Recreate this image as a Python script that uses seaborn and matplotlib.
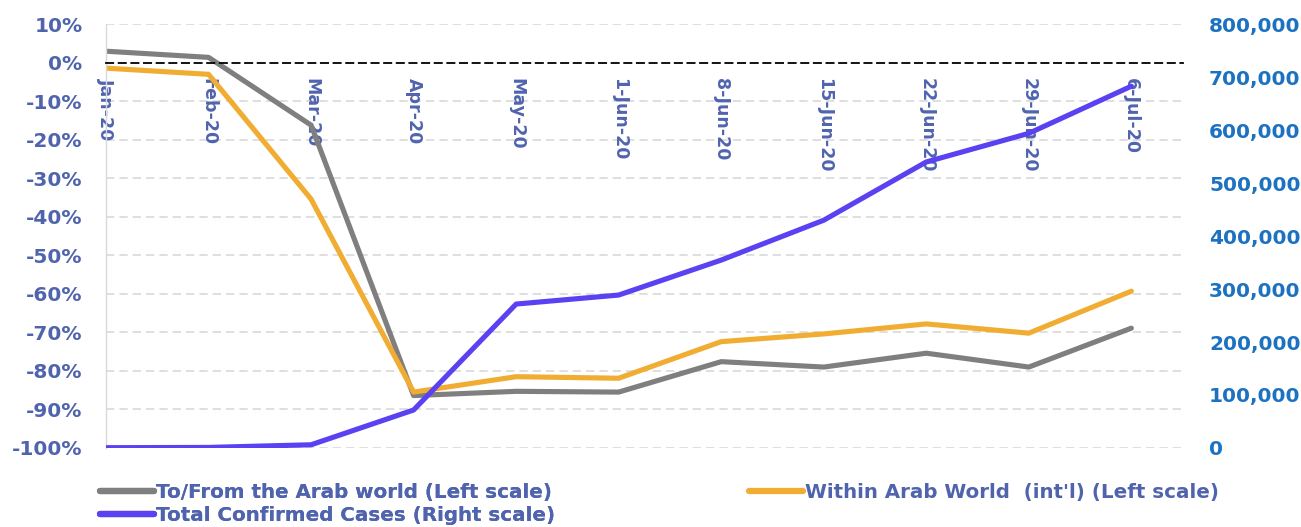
import numpy as np
import pandas as pd
import matplotlib
matplotlib.use("Agg")
import matplotlib.pyplot as plt
import seaborn as sns
from matplotlib.ticker import FuncFormatter

# data
categories = ["Jan-20", "Feb-20", "Mar-20", "Apr-20", "May-20", "1-Jun-20",
              "8-Jun-20", "15-Jun-20", "22-Jun-20", "29-Jun-20", "6-Jul-20"]
to_from_arab = [3.0, 1.4, -16.2, -86.4, -85.3, -85.5, -77.6, -79.0, -75.4, -79.0, -68.9]
within_arab = [-1.4, -3.0, -35.4, -85.5, -81.5, -81.9, -72.4, -70.4, -67.8, -70.2, -59.3]
total_cases = [500, 1000, 6000, 71700, 271700, 288700, 354700, 430000, 540000, 594000, 683000]

left_ticks = list(range(-100, 11, 10))
right_ticks = list(range(0, 800001, 100000))

grey = "#7f7f7f"
orange = "#f0ad32"
purple = "#5a41f2"
label_blue = "#5064ae"
right_blue = "#1c72c0"

df = pd.DataFrame({"pos": np.arange(len(categories)),
                   "to_from": to_from_arab,
                   "within": within_arab,
                   "cases": total_cases})

sns.set_style("white")
plt.rcParams["font.family"] = ["DejaVu Sans"]

fig = plt.figure(figsize=(13.01, 5.27), dpi=100)
ax = fig.add_axes([0.0815, 0.150, 0.8275, 0.804])

sns.lineplot(data=df, x="pos", y="to_from", ax=ax, color=grey, lw=3.7,
             label="To/From the Arab world (Left scale)")
sns.lineplot(data=df, x="pos", y="within", ax=ax, color=orange, lw=3.7,
             label="Within Arab World  (int'l) (Left scale)")
ax.set_ylim(-100, 10)
ax.set_xlim(0, len(categories) - 0.5)
ax.set_yticks(left_ticks)
ax.yaxis.set_major_formatter(FuncFormatter(lambda v, p: f"{int(round(v))}%"))
ax.set_xlabel("")
ax.set_ylabel("")

# gridlines
for t in left_ticks:
    if t != 0:
        ax.axhline(t, color="#d9d9d9", lw=1.2, ls=(0, (5, 3)), zorder=0)

# x axis sits on 0%
for s in ["top", "right"]:
    ax.spines[s].set_visible(False)
ax.spines["left"].set_color("#d9d9d9")
ax.spines["left"].set_linewidth(1)
ax.spines["bottom"].set_position(("data", 0))
ax.spines["bottom"].set_color("black")
ax.spines["bottom"].set_linewidth(1.3)
ax.spines["bottom"].set_linestyle((0, (4, 3)))

ax.set_xticks(df["pos"])
ax.set_xticklabels(categories, rotation=270, color=label_blue,
                   fontsize=12.5, fontweight="bold", va="top", ha="center")
ax.tick_params(axis="x", direction="in", length=4, width=1, color="black", pad=11)
ax.tick_params(axis="y", length=0, pad=17, labelsize=14.5, labelcolor=label_blue)
for lab in ax.get_yticklabels():
    lab.set_fontweight("bold")

# right axis
ax2 = ax.twinx()
sns.lineplot(data=df, x="pos", y="cases", ax=ax2, color=purple, lw=3.7,
             label="Total Confirmed Cases (Right scale)")
ax2.set_ylim(0, 800000)
ax2.set_yticks(right_ticks)
ax2.yaxis.set_major_formatter(FuncFormatter(lambda v, p: f"{int(v):,}"))
ax2.set_ylabel("")
ax2.tick_params(axis="y", length=0, pad=19, labelsize=14.5, labelcolor=right_blue)
for lab in ax2.get_yticklabels():
    lab.set_fontweight("bold")
for s in ax2.spines.values():
    s.set_visible(False)

h1, l1 = ax.get_legend_handles_labels()
h2, l2 = ax2.get_legend_handles_labels()
ax.get_legend().remove()
ax2.get_legend().remove()

leg_font = {"family": "DejaVu Sans", "weight": "bold", "size": 14.3}
leg1 = fig.legend([h1[0], h2[0]], [l1[0], l2[0]], loc="upper left",
                  bbox_to_anchor=(0.077, 0.083), frameon=False, prop=leg_font,
                  handlelength=2.7, handletextpad=0.1, labelspacing=0.2,
                  borderpad=0, borderaxespad=0)
leg2 = fig.legend([h1[1]], [l1[1]], loc="upper left",
                  bbox_to_anchor=(0.576, 0.083), frameon=False, prop=leg_font,
                  handlelength=2.7, handletextpad=0.1, borderpad=0, borderaxespad=0)
fig.add_artist(leg1)
for leg in (leg1, leg2):
    for t in leg.get_texts():
        t.set_color(label_blue)
    for ln in leg.get_lines():
        ln.set_linewidth(4.5)
        ln.set_solid_capstyle("round")

plt.savefig("out.png", dpi=100)
